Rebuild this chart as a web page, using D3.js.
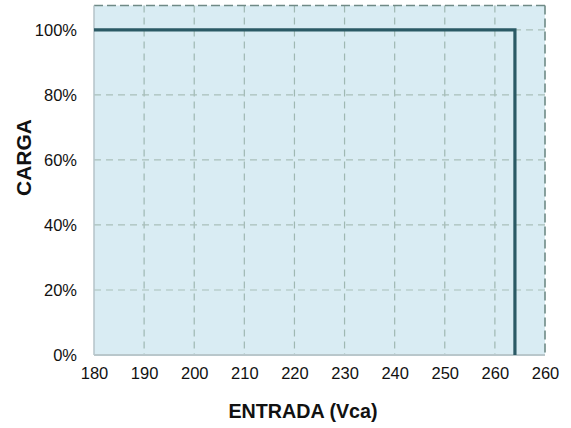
<!DOCTYPE html>
<html>
<head>
<meta charset="utf-8">
<script src="https://cdn.jsdelivr.net/npm/d3@7"></script>
<style>
body{margin:0;background:#fff;}
svg{display:block;}
text{font-family:"Liberation Sans",Arial,sans-serif;}
</style>
</head>
<body>
<svg id="c" width="571" height="428"></svg>
<script>
// Data
const xTicks = [180,190,200,210,220,230,240,250,260,270];
const xTickLabels = ["180","190","200","210","220","230","240","250","260","260"];
const yTicks = [0,20,40,60,80,100];
const yTickLabels = ["0%","20%","40%","60%","80%","100%"];
const lineX = [180, 264, 264];
const lineY = [100, 100, 0];

const svg = d3.select("#c");
const m = {l:94, r:545, t:5.5, b:355};
const x = d3.scaleLinear().domain([180,270]).range([m.l,m.r]);
const y = d3.scaleLinear().domain([0,107.5]).range([m.b,m.t]);

// background
svg.append("rect").attr("x",m.l).attr("y",m.t).attr("width",m.r-m.l).attr("height",m.b-m.t)
  .attr("fill","#d9ecf3");

// grid
const g = svg.append("g");
g.selectAll("line.v").data(xTicks.slice(1,-1)).join("line")
  .attr("x1",d=>x(d)).attr("x2",d=>x(d)).attr("y1",m.t).attr("y2",m.b)
  .attr("stroke","#9fb8b2").attr("stroke-width",1.2).attr("stroke-dasharray","7,5");
g.selectAll("line.h").data(yTicks.slice(1)).join("line")
  .attr("x1",m.l).attr("x2",m.r).attr("y1",d=>y(d)).attr("y2",d=>y(d))
  .attr("stroke","#a9bfba").attr("stroke-width",1.2).attr("stroke-dasharray","7,5");

// borders
svg.append("line").attr("x1",m.l).attr("x2",m.r).attr("y1",m.t).attr("y2",m.t)
  .attr("stroke","#6f8a86").attr("stroke-width",1.6).attr("stroke-dasharray","9,4");
svg.append("line").attr("x1",m.r).attr("x2",m.r).attr("y1",m.t).attr("y2",m.b)
  .attr("stroke","#6f8a86").attr("stroke-width",1.6).attr("stroke-dasharray","9,4");
svg.append("line").attr("x1",m.l).attr("x2",m.l).attr("y1",m.t).attr("y2",m.b)
  .attr("stroke","#b4c3c8").attr("stroke-width",1.5);
svg.append("line").attr("x1",m.l).attr("x2",m.r).attr("y1",m.b).attr("y2",m.b)
  .attr("stroke","#b9c7cb").attr("stroke-width",2);

// data line
const pts = lineX.map((d,i)=>[d,lineY[i]]);
svg.append("path").datum(pts)
  .attr("d", d3.line().x(d=>x(d[0])).y(d=>y(d[1])))
  .attr("fill","none").attr("stroke","#2b5a65").attr("stroke-width",3.2);

// axes
const xAxis = d3.axisBottom(x).tickValues(xTicks).tickFormat((d,i)=>xTickLabels[i]).tickSize(0).tickPadding(12);
const ax = svg.append("g").attr("transform",`translate(0,${m.b})`).call(xAxis);
ax.select(".domain").remove();
ax.selectAll("text").attr("font-size",16.5).attr("fill","#111").attr("font-family","Liberation Sans, Arial, sans-serif");

const yAxis = d3.axisLeft(y).tickValues(yTicks).tickFormat((d,i)=>yTickLabels[i]).tickSize(0).tickPadding(17);
const ay = svg.append("g").attr("transform",`translate(${m.l},0)`).call(yAxis);
ay.select(".domain").remove();
ay.selectAll("text").attr("font-size",16.5).attr("fill","#111").attr("font-family","Liberation Sans, Arial, sans-serif");

// titles
svg.append("text").attr("x",303).attr("y",418).attr("text-anchor","middle")
  .attr("font-size",19.7).attr("font-weight","bold").attr("fill","#111").text("ENTRADA (Vca)");
svg.append("text").attr("transform","translate(31,157.5) rotate(-90)").attr("text-anchor","middle")
  .attr("font-size",21).attr("font-weight","bold").attr("fill","#111").text("CARGA");
</script>
</body>
</html>
